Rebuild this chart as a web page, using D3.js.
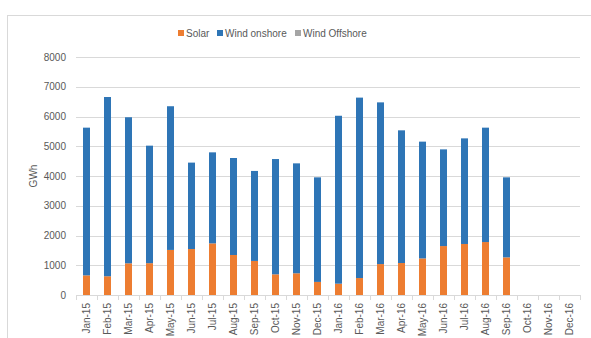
<!DOCTYPE html>
<html>
<head>
<meta charset="utf-8">
<script src="https://cdn.jsdelivr.net/npm/d3@7"></script>
<style>
  body { margin: 0; background: #fff; }
  text { font-family: "Liberation Sans", Arial, sans-serif; fill: #595959; }
</style>
</head>
<body>
<div id="chart"></div>
<script>
// Data
const months = ["Jan-15", "Feb-15", "Mar-15", "Apr-15", "May-15", "Jun-15", "Jul-15", "Aug-15",
  "Sep-15", "Oct-15", "Nov-15", "Dec-15", "Jan-16", "Feb-16", "Mar-16", "Apr-16", "May-16",
  "Jun-16", "Jul-16", "Aug-16", "Sep-16", "Oct-16", "Nov-16", "Dec-16"];
const solar = [660, 630, 1065, 1070, 1515, 1545, 1735, 1345, 1145, 695, 730, 440,
  380, 570, 1040, 1075, 1230, 1645, 1715, 1780, 1265, 0, 0, 0];
const windOnshore = [4965, 6025, 4910, 3950, 4830, 2905, 3060, 3260, 3025, 3875, 3695, 3515,
  5645, 6065, 5435, 4460, 3925, 3250, 3550, 3845, 2690, 0, 0, 0];
const windOffshore = [0, 0, 0, 0, 0, 0, 0, 0, 0, 0, 0, 0,
  0, 0, 0, 0, 0, 0, 0, 0, 0, 0, 0, 0];
const seriesNames = ["Solar", "Wind onshore", "Wind Offshore"];
const colors = ["#ED7D31", "#2E75B6", "#A5A5A5"];
const yTicks = [0, 1000, 2000, 3000, 4000, 5000, 6000, 7000, 8000];

const W = 591, H = 338;
const margin = { top: 57, right: 11, bottom: 43, left: 76 };
const width = W - margin.left - margin.right;
const height = H - margin.top - margin.bottom;

const svg = d3.select("#chart").append("svg")
  .attr("width", W)
  .attr("height", H);

// chart area border
svg.append("rect")
  .attr("x", 7.5).attr("y", 15.5)
  .attr("width", 620).attr("height", 400)
  .attr("fill", "none")
  .attr("stroke", "#d9d9d9");

const g = svg.append("g")
  .attr("transform", `translate(${margin.left},${margin.top})`);

const x = d3.scaleBand().domain(months).range([0, width]);
const y = d3.scaleLinear().domain([0, 8000]).range([height, 0]);

// gridlines
g.append("g")
  .selectAll("line")
  .data(yTicks.slice(1))
  .join("line")
  .attr("x1", 0).attr("x2", width)
  .attr("y1", d => Math.round(y(d)) + 0.5)
  .attr("y2", d => Math.round(y(d)) + 0.5)
  .attr("stroke", "#d9d9d9");

// y tick labels
g.append("g")
  .selectAll("text")
  .data(yTicks)
  .join("text")
  .attr("x", -10)
  .attr("y", d => y(d))
  .attr("dy", "0.35em")
  .attr("text-anchor", "end")
  .attr("font-size", 10)
  .text(d => d);

// y axis title
g.append("text")
  .attr("transform", `translate(${37 - margin.left},${height / 2}) rotate(-90)`)
  .attr("text-anchor", "middle")
  .attr("font-size", 10)
  .text("GWh");

// stacked bars
const table = months.map((m, i) => ({
  month: m, "Solar": solar[i], "Wind onshore": windOnshore[i], "Wind Offshore": windOffshore[i]
}));
const stacked = d3.stack().keys(seriesNames)(table);

const barW = 7;
g.append("g")
  .selectAll("g")
  .data(stacked)
  .join("g")
  .attr("fill", (d, i) => colors[i])
  .selectAll("rect")
  .data(d => d)
  .join("rect")
  .attr("x", d => x(d.data.month) + x.bandwidth() / 2 - barW / 2)
  .attr("y", d => y(d[1]))
  .attr("width", barW)
  .attr("height", d => y(d[0]) - y(d[1]));

// x axis
const xAxis = g.append("g")
  .attr("transform", `translate(0,${height})`);
xAxis.append("line")
  .attr("x1", 0).attr("x2", width)
  .attr("y1", 0.5).attr("y2", 0.5)
  .attr("stroke", "#d9d9d9");
xAxis.selectAll("line.tick")
  .data(d3.range(months.length + 1))
  .join("line")
  .attr("class", "tick")
  .attr("x1", i => Math.round(i * x.step()) + 0.5)
  .attr("x2", i => Math.round(i * x.step()) + 0.5)
  .attr("y1", 0).attr("y2", 5)
  .attr("stroke", "#d9d9d9");
xAxis.selectAll("text")
  .data(months)
  .join("text")
  .attr("transform", d => `translate(${x(d) + x.bandwidth() / 2 + 3.5},8) rotate(-90)`)
  .attr("text-anchor", "end")
  .attr("font-size", 10)
  .text(d => d);

// legend
const legendX = [178, 217, 295];
const legend = svg.append("g")
  .selectAll("g")
  .data(seriesNames)
  .join("g")
  .attr("transform", (d, i) => `translate(${legendX[i]},29)`);
legend.append("rect")
  .attr("width", 6).attr("height", 6)
  .attr("y", 1)
  .attr("fill", (d, i) => colors[i]);
legend.append("text")
  .attr("x", 8)
  .attr("y", 4)
  .attr("dy", "0.35em")
  .attr("font-size", 10)
  .text(d => d);
</script>
</body>
</html>
